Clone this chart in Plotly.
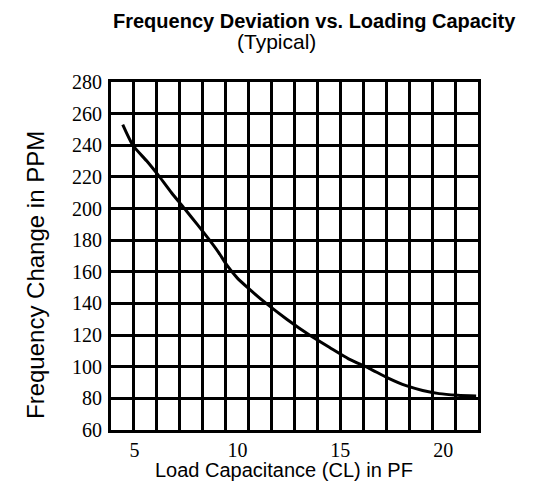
import plotly.graph_objects as go

# Data
load_capacitance_pf = [4.43, 4.92, 5.6, 6.22, 6.8, 7.43, 8.05, 8.65, 9.1, 9.5,
                       10.0, 10.5, 11.4, 12.4, 13.5, 14.5, 15.4, 16.4, 17.3,
                       18.2, 19.0, 19.8, 20.7, 21.6]
freq_change_ppm = [253, 240, 230, 220, 210, 200, 190, 180, 172, 164,
                   156, 150, 140, 130, 120, 112, 105, 99, 93,
                   88, 85, 83, 82, 81.5]

y_ticks = [60, 80, 100, 120, 140, 160, 180, 200, 220, 240, 260, 280]
x_ticks = [5, 10, 15, 20]
x_range = [3.86, 21.69]
y_range = [60, 280]
n_vertical_cells = 16

OFF = 8  # page body margin
W, H = 537 - 2 * OFF, 491 - 2 * OFF
L, R, T, B = 111 - OFF, 478 - OFF, 82 - OFF, 430 - OFF

def px(xp):
    return (xp - OFF - L) / (R - L)

def py(yp):
    return (B - (yp - OFF)) / (B - T)

fig = go.Figure()
fig.add_trace(go.Scatter(
    x=load_capacitance_pf, y=freq_change_ppm, mode="lines",
    line=dict(color="black", width=3, shape="spline", smoothing=0.6),
    showlegend=False, hoverinfo="skip"))
# empty trace so the overlay axis carrying the vertical grid is drawn
fig.add_trace(go.Scatter(x=[], y=[], xaxis="x2", showlegend=False, hoverinfo="skip"))

fig.update_layout(
    width=W, height=H,
    margin=dict(l=L, r=W - R, t=T, b=H - B, pad=0),
    paper_bgcolor="white", plot_bgcolor="white",
    xaxis=dict(range=x_range, tickvals=x_ticks, showgrid=False, zeroline=False,
               showline=True, linecolor="black", linewidth=3, mirror=True,
               ticks="", tickfont=dict(family="Liberation Serif", size=20, color="black"),
               ticklabelstandoff=0),
    xaxis2=dict(range=[0, n_vertical_cells], dtick=1, tick0=0, overlaying="x",
                showgrid=True, gridcolor="black", gridwidth=3, showticklabels=False,
                ticks="", zeroline=False, showline=False, side="top"),
    yaxis=dict(range=y_range, tickvals=y_ticks, showgrid=True, gridcolor="black",
               gridwidth=3, zeroline=False, showline=True, linecolor="black",
               linewidth=3, mirror=True, ticks="",
               tickfont=dict(family="Liberation Serif", size=20, color="black"),
               ticklabelstandoff=2),
    annotations=[
        dict(text="<b>Frequency Deviation vs. Loading Capacity</b>", xref="paper", yref="paper",
             x=px(314), y=py(OFF), showarrow=False, xanchor="center", yanchor="top",
             font=dict(family="Liberation Sans", size=20, color="black")),
        dict(text="(Typical)", xref="paper", yref="paper",
             x=px(276), y=py(42), showarrow=False, xanchor="center", yanchor="middle",
             font=dict(family="Liberation Sans", size=21, color="black")),
        dict(text="Load Capacitance (CL) in PF", xref="paper", yref="paper",
             x=px(284), y=py(H + OFF), showarrow=False, xanchor="center", yanchor="bottom",
             font=dict(family="Liberation Sans", size=20, color="black")),
        dict(text="Frequency Change in PPM", xref="paper", yref="paper", textangle=-90,
             x=px(35), y=py(275), showarrow=False, xanchor="center", yanchor="middle",
             font=dict(family="Liberation Sans", size=24, color="black")),
    ],
)

fig.write_html("out.html")
